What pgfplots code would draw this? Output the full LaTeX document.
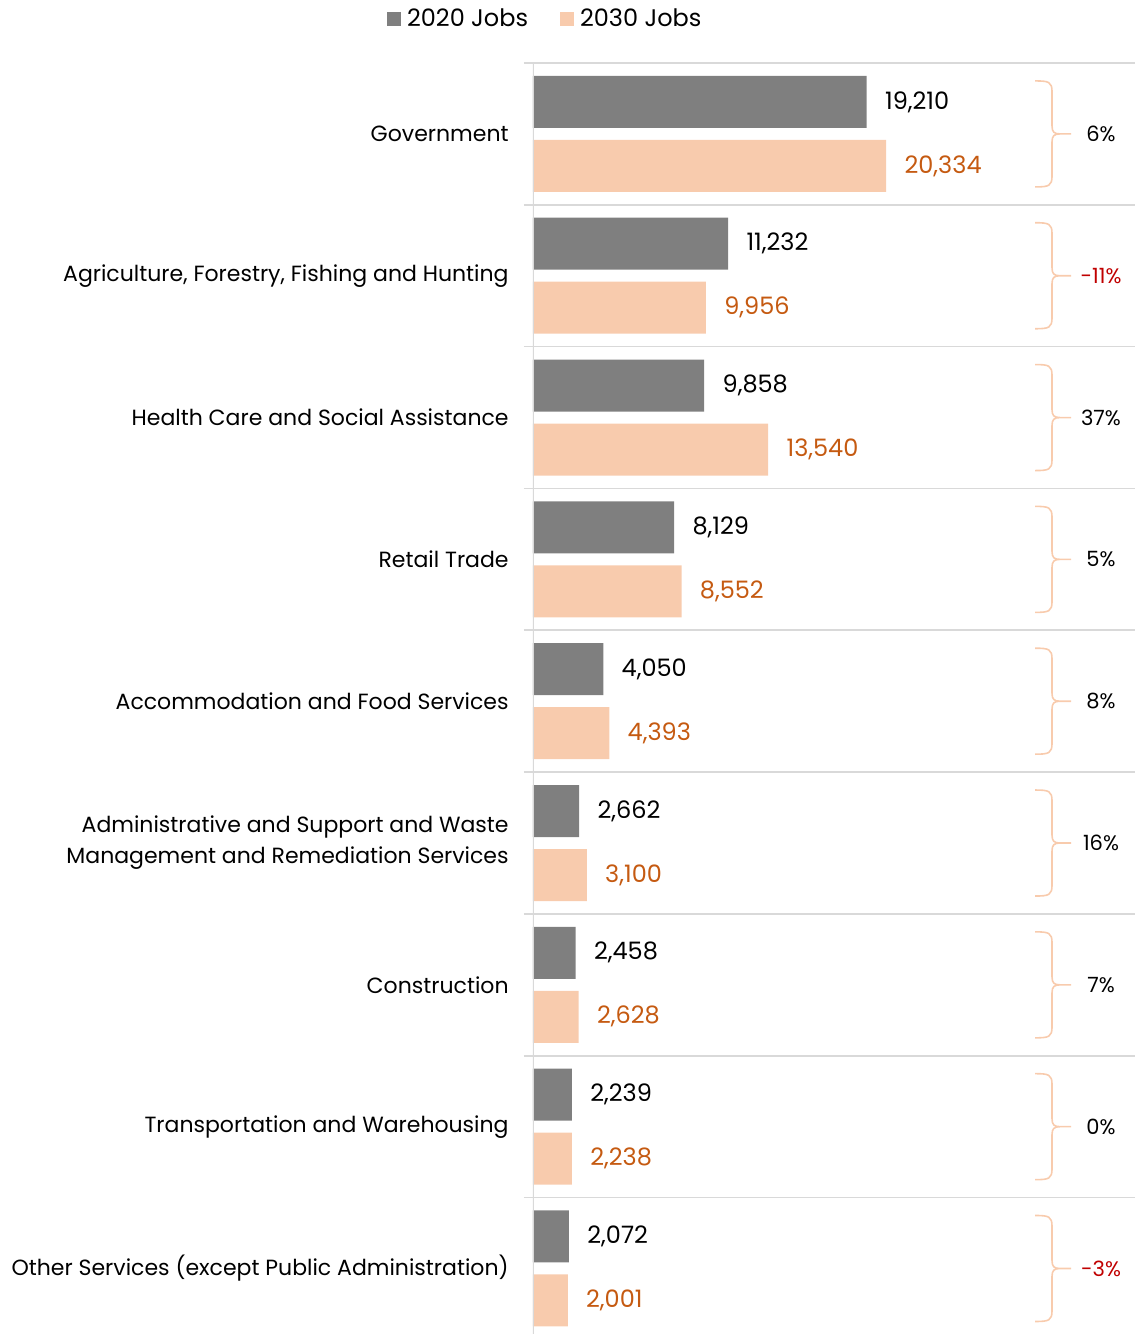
\documentclass[border=0pt]{standalone}
\usepackage{fontspec}
\setmainfont{Poppins}[Numbers=Monospaced]
\usepackage{pgfplots}
\pgfplotsset{compat=1.18}
\definecolor{bargray}{HTML}{7F7F7F}
\definecolor{barpeach}{HTML}{F8CBAD}
\definecolor{valorange}{HTML}{C55A11}
\definecolor{negred}{HTML}{C00000}
\definecolor{gridgray}{HTML}{D9D9D9}
\definecolor{bracecol}{HTML}{F8CBAD}
\newcommand{\brc}[3]{%
  \draw[bracecol, line width=0.8pt, shift={(axis cs:29880,#1)}, x=0.5pt, y=-0.5pt]
    (-17,-53) .. controls (-3,-53) and (0,-52) .. (0,-42) -- (0,-8)
    .. controls (0,-2) and (2,0) .. (8,0) -- (19,0)
    (8,0) .. controls (2,0) and (0,2) .. (0,8) -- (0,42)
    .. controls (0,52) and (-3,53) .. (-17,53);
  \node[text=#3, font=\fontsize{10.5}{12}\selectfont, inner sep=0pt] at (axis cs:32700,#1) {#2};
}
\begin{document}
\begin{tikzpicture}[x=1pt,y=1pt]
\path[use as bounding box] (0,0) rectangle (567.5,667);
\begin{axis}[
  at={(266.5pt,635.5pt)}, anchor=north west,
  scale only axis, width=301pt, height=638.2pt,
  xmin=0, xmax=34657, ymin=-0.5, ymax=8.5, y dir=reverse,
  xbar, bar width=26pt,
  axis line style={draw=none},
  xtick=\empty,
  ytick={-0.5,0.5,1.5,2.5,3.5,4.5,5.5,6.5,7.5,8.5},
  yticklabels={},
  ymajorgrids,
  grid style={gridgray, line width=0.8pt},
  tick pos=left, tick align=outside,
  major tick length=4.5pt,
  y tick style={gridgray, line width=0.8pt},
  extra y ticks={0,1,2,3,4,5,6,7,8},
  extra y tick labels={Government, {Agriculture, Forestry, Fishing and Hunting}, Health Care and Social Assistance, Retail Trade, Accommodation and Food Services, {Administrative and Support and Waste\\Management and Remediation Services}, Construction, Transportation and Warehousing, Other Services (except Public Administration)},
  extra y tick style={major tick length=0pt, grid=none},
  yticklabel style={align=right, inner sep=0pt, xshift=-12pt, font=\fontsize{11}{15.5}\selectfont},
  nodes near coords,
  /pgf/number format/.cd, fixed, precision=0, 1000 sep={,}, assume math mode=true,
  /pgfplots/.cd,
  nodes near coords style={anchor=west, inner sep=0pt, xshift=9pt, font=\fontsize{12}{14}\selectfont},
  legend columns=2,
  legend style={draw=none, at={(axis description cs:0.022,1)}, anchor=south, yshift=12.5pt,
    font=\fontsize{12}{14}\selectfont, /tikz/every even column/.append style={column sep=14pt}},
  legend image code/.code={\fill[#1] (0pt,-3.5pt) rectangle (7pt,3.5pt);},
  legend cell align=left,
]
\addplot[fill=bargray, draw=none, bar shift=16pt, every node near coord/.append style={text=black}]
  coordinates {(19210,0) (11232,1) (9858,2) (8129,3) (4050,4) (2662,5) (2458,6) (2239,7) (2072,8)};
\addplot[fill=barpeach, draw=none, bar shift=-16pt, every node near coord/.append style={text=valorange}]
  coordinates {(20334,0) (9956,1) (13540,2) (8552,3) (4393,4) (3100,5) (2628,6) (2238,7) (2001,8)};
\legend{\hspace{1pt}2020 Jobs, \hspace{1pt}2030 Jobs}
\draw[gridgray, line width=0.8pt] (axis cs:0,-0.5) -- (axis cs:0,8.5);
\brc{0}{6\%}{black}
\brc{1}{-11\%}{negred}
\brc{2}{37\%}{black}
\brc{3}{5\%}{black}
\brc{4}{8\%}{black}
\brc{5}{16\%}{black}
\brc{6}{7\%}{black}
\brc{7}{0\%}{black}
\brc{8}{-3\%}{negred}
\end{axis}
\end{tikzpicture}
\end{document}
